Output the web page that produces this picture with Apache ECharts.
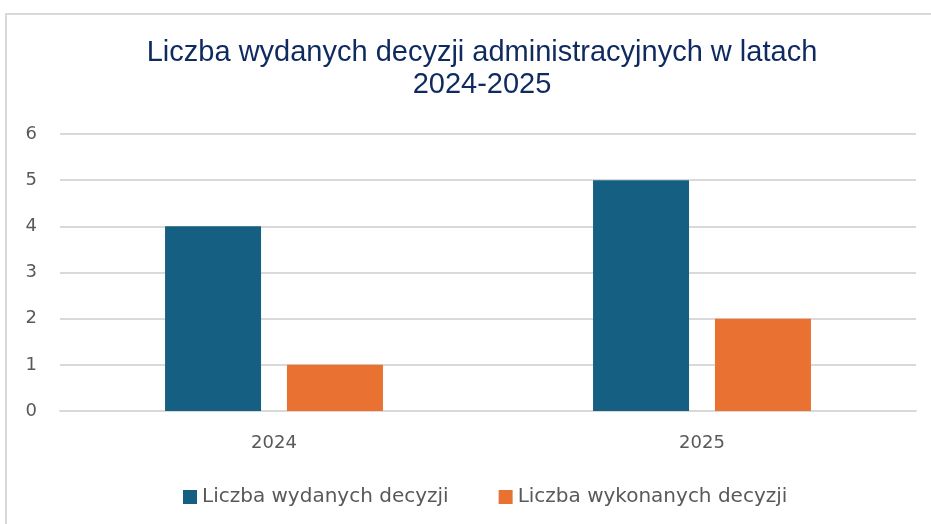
<!DOCTYPE html>
<html>
<head>
<meta charset="utf-8">
<script src="https://cdn.jsdelivr.net/npm/echarts@6/dist/echarts.min.js"></script>
<style>
  html, body { margin: 0; padding: 0; background: #fff; }
  #main { position: absolute; left: 0; top: 0; width: 931px; height: 524px; }
  #frame { position: absolute; left: 5px; top: 13px; width: 940px; height: 520px;
           border-top: 2px solid #d9d9d9; border-left: 2px solid #d9d9d9; pointer-events: none; }
</style>
</head>
<body>
<div id="main"></div>
<div id="frame"></div>
<script>
const years = ['2024', '2025']
const wydane = [4, 5]     // Liczba wydanych decyzji
const wykonane = [1, 2]   // Liczba wykonanych decyzji
const yTicks = [0, 1, 2, 3, 4, 5, 6]

const titleFont = 'Liberation Sans'
const font = 'DejaVu Sans'
const myChart = echarts.init(document.getElementById('main'))

myChart.setOption({
  animation: false,
  title: {
    text: 'Liczba wydanych decyzji administracyjnych w latach\n2024-2025',
    left: 477,
    top: 32,
    textAlign: 'center',
    textStyle: { fontFamily: titleFont, fontSize: 29, fontWeight: 'normal', color: '#0E2A5E', lineHeight: 32 }
  },
  legend: {
    bottom: 12,
    left: 178,
    itemWidth: 14,
    itemHeight: 14,
    itemGap: 50,
    icon: 'rect',
    textStyle: { fontFamily: font, fontSize: 20, color: '#595959' }
  },
  grid: { left: 60, right: 15, top: 134, bottom: 113 },
  xAxis: {
    type: 'category',
    data: years,
    axisLine: { lineStyle: { color: '#d9d9d9', width: 2 } },
    axisTick: { show: false },
    axisLabel: { fontFamily: font, fontSize: 18, color: '#595959', margin: 23 }
  },
  yAxis: {
    type: 'value',
    min: yTicks[0],
    max: yTicks[yTicks.length - 1],
    interval: 1,
    splitLine: { lineStyle: { color: '#d9d9d9', width: 2 } },
    axisLabel: { fontFamily: font, fontSize: 18, color: '#595959', margin: 23 }
  },
  series: [
    { name: 'Liczba wydanych decyzji', type: 'bar', data: wydane, barWidth: 96, barGap: '27%', itemStyle: { color: '#156082' } },
    { name: 'Liczba wykonanych decyzji', type: 'bar', data: wykonane, barWidth: 96, itemStyle: { color: '#E97132' } }
  ]
})
</script>
</body>
</html>
